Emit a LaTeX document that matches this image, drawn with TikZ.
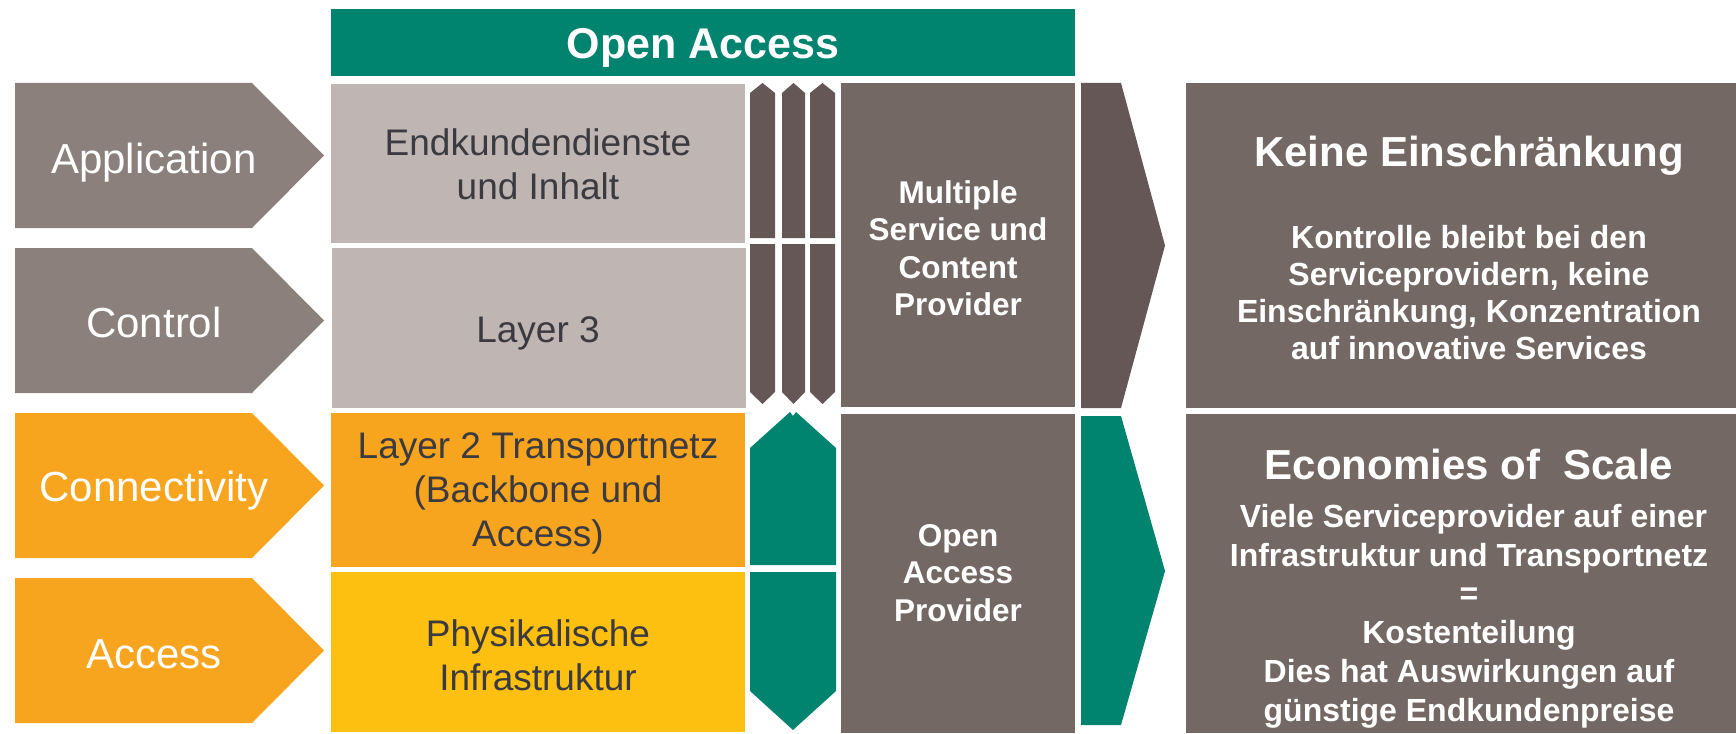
\documentclass[tikz,border=0pt]{standalone}
\usepackage{fontspec}
\setmainfont{Liberation Sans}
\definecolor{oagreen}{RGB}{0,132,111}
\definecolor{chevgrey}{RGB}{140,128,124}
\definecolor{lightgrey}{RGB}{191,181,178}
\definecolor{darkbar}{RGB}{101,87,86}
\definecolor{provgrey}{RGB}{116,104,100}
\definecolor{oaorange}{RGB}{247,165,30}
\definecolor{oayellow}{RGB}{253,192,16}
\definecolor{darktext}{RGB}{58,58,64}
\tikzset{
  chevtxt/.style={inner sep=0pt, text=white, font=\fontsize{42}{50}\selectfont},
  layertxt/.style={inner sep=0pt, align=center, text=darktext, font=\fontsize{37}{44}\selectfont},
  provtxt/.style={inner sep=0pt, align=center, text=white, font=\fontsize{31.5}{37.5}\selectfont\bfseries},
  headtxt/.style={inner sep=0pt, align=center, text=white, font=\fontsize{42}{50}\selectfont\bfseries},
  bodytxt/.style={inner sep=0pt, align=center, text=white, font=\fontsize{32}{37}\selectfont\bfseries},
  bodytxtb/.style={inner sep=0pt, align=center, text=white, font=\fontsize{32}{38.8}\selectfont\bfseries},
}
\begin{document}
\begin{tikzpicture}[x=1pt,y=-1pt]
\useasboundingbox (0,0) rectangle (1736,733);
% top bar
\fill[oagreen] (331,9) rectangle (1075,76);
\node[headtxt, font=\fontsize{43}{50}\selectfont\bfseries] (oa) at (703,48) {Open Access};
% chevrons
\fill[chevgrey] (15,83) -- (252,83) -- (324,155.5) -- (252,228) -- (15,228) -- cycle;
\fill[chevgrey] (15,248) -- (252,248) -- (324,320.5) -- (252,393) -- (15,393) -- cycle;
\fill[oaorange] (15,413) -- (252,413) -- (324,485.5) -- (252,558) -- (15,558) -- cycle;
\fill[oaorange] (15,578) -- (252,578) -- (324,650.5) -- (252,723) -- (15,723) -- cycle;
\node[chevtxt] (app) at (154,163) {Application};
\node[chevtxt] (ctl) at (154,322) {Control};
\node[chevtxt] (con) at (154,491) {Connectivity};
\node[chevtxt] (acc) at (154,654) {Access};
% layer boxes
\fill[lightgrey] (331,84) rectangle (745,243);
\fill[lightgrey] (332,248) rectangle (746,408);
\fill[oaorange] (331,413) rectangle (745,567);
\fill[oayellow] (331,572) rectangle (745,732);
\node[layertxt] (l1) at (538,164) {Endkundendienste\\und Inhalt};
\node[layertxt] (l2) at (538,333) {Layer 3};
\node[layertxt] (l3) at (538,493) {Layer 2 Transportnetz\\(Backbone und\\Access)};
\node[layertxt] (l4) at (538,655) {Physikalische\\Infrastruktur};
% narrow dark bars
\foreach \a/\b in {750/775, 782/805, 810/835}{
  \pgfmathsetmacro{\m}{(\a+\b)/2}
  \fill[darkbar] (\a,93) -- (\m,83) -- (\b,93) -- (\b,238) -- (\a,238) -- cycle;
  \fill[darkbar] (\a,244) -- (\b,244) -- (\b,392) -- (\m,404) -- (\a,392) -- cycle;
}
% green hexagon halves
\fill[oagreen] (750,448) -- (790,412) -- (793,416) -- (796,412) -- (836,448) -- (836,565) -- (750,565) -- cycle;
\fill[oagreen] (750,572) -- (836,572) -- (836,691) -- (793,730) -- (750,691) -- cycle;
% provider boxes
\fill[provgrey] (841,83) rectangle (1075,407);
\fill[provgrey] (841,414) rectangle (1075,733);
\node[provtxt] (p1) at (958,248) {Multiple\\Service und\\Content\\Provider};
\node[provtxt] (p2) at (958,573) {Open\\Access\\Provider};
% big arrows
\fill[darkbar] (1081,83) -- (1121,83) -- (1165,245.5) -- (1121,408) -- (1081,408) -- cycle;
\fill[oagreen] (1081,416) -- (1121,416) -- (1165,571) -- (1121,725) -- (1081,725) -- cycle;
% right boxes
\fill[provgrey] (1186,83) rectangle (1736,408);
\fill[provgrey] (1186,414) rectangle (1736,733);
\node[headtxt] (h1) at (1469,156) {Keine Einschränkung};
\node[bodytxt] (b1) at (1469,293) {Kontrolle bleibt bei den\\Serviceprovidern, keine\\Einschränkung, Konzentration\\auf innovative Services};
\node[headtxt] (h2) at (1469,464) {Economies of\ \ Scale};
\node[bodytxtb] (b2) at (1469,616) {\ Viele Serviceprovider auf einer\\Infrastruktur und Transportnetz\\=\\Kostenteilung\\Dies hat Auswirkungen auf\\günstige Endkundenpreise};
\end{tikzpicture}
\end{document}
